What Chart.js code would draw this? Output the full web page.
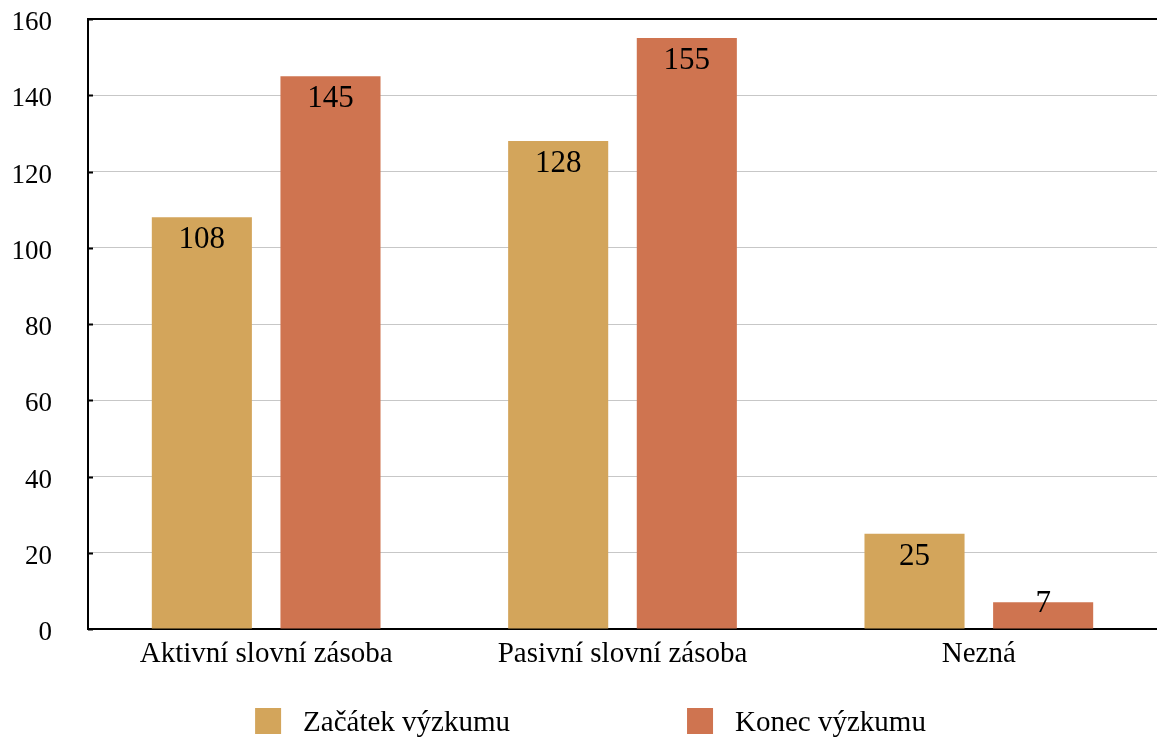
<!DOCTYPE html>
<html>
<head>
<meta charset="utf-8">
<script src="https://cdn.jsdelivr.net/npm/chart.js@4"></script>
<style>
html,body{margin:0;padding:0;background:#fff;}
#wrap{width:1157px;height:738px;position:relative;}
</style>
</head>
<body>
<div id="wrap"><canvas id="c" width="1157" height="738"></canvas></div>
<script>
const categories = ['Aktivní slovní zásoba', 'Pasivní slovní zásoba', 'Nezná'];
const seriesNames = ['Začátek výzkumu', 'Konec výzkumu'];
const startValues = [108, 128, 25];
const endValues = [145, 155, 7];
const yMin = 0, yMax = 160, yStep = 20;
const colors = ['#D3A55B', '#CF7450'];

const FONT = '"Liberation Serif", "Times New Roman", serif';

const valueLabels = {
  id: 'valueLabels',
  afterDraw(chart) {
    const ctx = chart.ctx;
    ctx.save();
    ctx.font = '31px ' + FONT;
    ctx.fillStyle = '#000';
    ctx.textAlign = 'center';
    ctx.textBaseline = 'middle';
    chart.data.datasets.forEach((ds, i) => {
      chart.getDatasetMeta(i).data.forEach((bar, j) => {
        const h = bar.base - bar.y;
        const off = Math.min(23, Math.max(2, h - 25));
        ctx.fillText(String(ds.data[j]), bar.x, bar.y + off);
      });
    });
    // inner tick marks on the y axis
    const ys = chart.scales.y, ca = chart.chartArea;
    ctx.strokeStyle = '#000';
    ctx.lineWidth = 2;
    ys.ticks.forEach(t => {
      const y = Math.round(ys.getPixelForValue(t.value)) + 0.5;
      ctx.beginPath();
      ctx.moveTo(ca.left, y);
      ctx.lineTo(ca.left + 5, y);
      ctx.stroke();
    });
    // custom legend
    ctx.font = '29px ' + FONT;
    ctx.textAlign = 'left';
    const box = 26, gapText = 22, gapItems = 177;
    const widths = chart.data.datasets.map(d => box + gapText + ctx.measureText(d.label).width);
    const total = widths.reduce((a, b) => a + b, 0) + gapItems * (widths.length - 1);
    let x = chart.width / 2 - total / 2 + 12;
    const cy = 721;
    chart.data.datasets.forEach((d, i) => {
      ctx.fillStyle = d.backgroundColor;
      ctx.fillRect(x, cy - box / 2, box, box);
      ctx.fillStyle = '#000';
      ctx.fillText(d.label, x + box + gapText, cy + 2);
      x += widths[i] + gapItems;
    });
    ctx.restore();
  }
};

new Chart(document.getElementById('c'), {
  type: 'bar',
  data: {
    labels: categories,
    datasets: [
      { label: seriesNames[0], data: startValues, backgroundColor: colors[0], borderWidth: 0 },
      { label: seriesNames[1], data: endValues, backgroundColor: colors[1], borderWidth: 0 }
    ]
  },
  options: {
    responsive: false,
    animation: false,
    devicePixelRatio: 1,
    datasets: { bar: { categoryPercentage: 0.722, barPercentage: 0.778 } },
    layout: { padding: { top: 19, bottom: 49, left: 0, right: 0 } },
    plugins: { legend: { display: false }, tooltip: { enabled: false } },
    scales: {
      x: {
        grid: { display: false, drawTicks: false },
        border: { display: true, color: '#000', width: 2 },
        ticks: { color: '#000', font: { family: FONT, size: 29 }, padding: 8, maxRotation: 0 },
        afterFit(s) { s.height = 60; s.paddingLeft = 0; s.paddingRight = 0; }
      },
      y: {
        z: 1,
        min: yMin, max: yMax,
        grid: {
          drawTicks: false,
          color: c => c.tick && c.tick.value === yMax ? '#000' : 'rgba(0,0,0,0.22)',
          lineWidth: c => c.tick && c.tick.value === yMax ? 2 : 1
        },
        border: { display: true, color: '#000', width: 2 },
        ticks: { stepSize: yStep, color: '#000', font: { family: FONT, size: 27 }, padding: 36, labelOffset: 4 },
        afterFit(s) { s.width = 88; s.paddingTop = 0; s.paddingBottom = 0; }
      }
    }
  },
  plugins: [valueLabels]
});
</script>
</body>
</html>
